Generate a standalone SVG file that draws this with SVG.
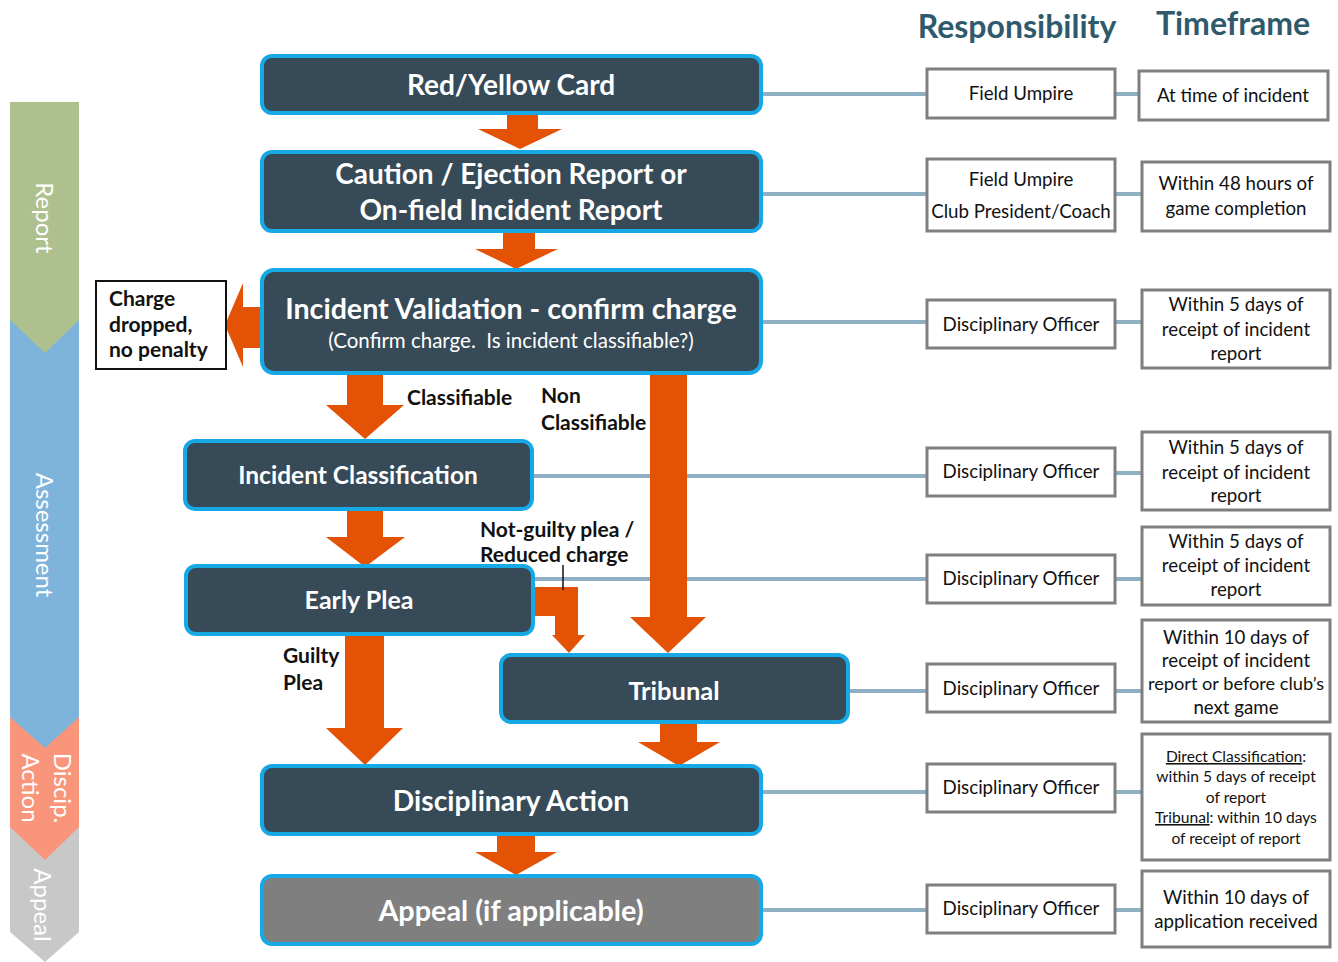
<svg xmlns="http://www.w3.org/2000/svg" width="1338" height="962" viewBox="0 0 1338 962">
<style>
.node{fill:#364A57;stroke:#17A9E6;stroke-width:4}
.gray{fill:#7F7F7F}
.nt{font-family:Lato,"Liberation Sans",sans-serif;font-weight:bold;fill:#fff;text-anchor:middle}
.sub{font-family:Lato,"Liberation Sans",sans-serif;font-weight:normal;fill:#fff;text-anchor:middle;font-size:20.5px;white-space:pre}
.arr{fill:#E35205}
.conn{stroke:#8FAFC2;stroke-width:4;fill:none}
.box{fill:#fff;stroke:#7F7F7F;stroke-width:3}
.bt{font-family:Lato,"Liberation Sans",sans-serif;font-size:18.7px;fill:#111;text-anchor:middle}
.bt.sm{font-size:15.6px}
.lbl{font-family:Lato,"Liberation Sans",sans-serif;font-weight:bold;font-size:21px;fill:#111}
.hdr{font-family:Lato,"Liberation Sans",sans-serif;font-weight:bold;font-size:32px;fill:#2F5A6C;text-anchor:middle}
.band{font-family:Lato,"Liberation Sans",sans-serif;font-size:24px;fill:#fff;text-anchor:middle}
</style>

<g id="phase-band">
<polygon points="10,827 79,827 79,932 45,962 10,932" fill="#C8C8C8"/>
<polygon points="10,717 79,717 79,827 45,860 10,827" fill="#F9957A"/>
<polygon points="10,320 79,320 79,717 45,748 10,717" fill="#7EB3DC"/>
<polygon points="10,102 79,102 79,320 45,353 10,320" fill="#AEC08E"/>
<text class="band" transform="translate(36,218) rotate(90)">Report</text>
<text class="band" transform="translate(36,535) rotate(90)">Assessment</text>
<text class="band" transform="translate(54,788) rotate(90)">Discip.</text>
<text class="band" transform="translate(22,788) rotate(90)">Action</text>
<text class="band" transform="translate(34,905) rotate(90)" fill="#F2F2F2">Appeal</text>
</g>

<g id="headers">
<text class="hdr" x="1017" y="38">Responsibility</text>
<text class="hdr" x="1233" y="35">Timeframe</text>
</g>

<g id="connectors">
<line class="conn" x1="761" y1="94" x2="927" y2="94"/>
<line class="conn" x1="1115" y1="94" x2="1139" y2="94"/>
<line class="conn" x1="761" y1="194" x2="927" y2="194"/>
<line class="conn" x1="1115" y1="194" x2="1142" y2="194"/>
<line class="conn" x1="761" y1="322" x2="927" y2="322"/>
<line class="conn" x1="1115" y1="322" x2="1142" y2="322"/>
<line class="conn" x1="532" y1="476" x2="927" y2="476"/>
<line class="conn" x1="1115" y1="473" x2="1142" y2="473"/>
<line class="conn" x1="533" y1="579" x2="927" y2="579"/>
<line class="conn" x1="1115" y1="579" x2="1142" y2="579"/>
<line class="conn" x1="848" y1="691" x2="927" y2="691"/>
<line class="conn" x1="1115" y1="691" x2="1142" y2="691"/>
<line class="conn" x1="761" y1="792" x2="927" y2="792"/>
<line class="conn" x1="1115" y1="792" x2="1142" y2="792"/>
<line class="conn" x1="761" y1="910" x2="927" y2="910"/>
<line class="conn" x1="1115" y1="910" x2="1142" y2="910"/>

<polygon class="arr" points="507,113 538,113 538,129 562,129 520,149 478,129 507,129"/>
<polygon class="arr" points="503,231 535,231 535,249 558,249 516,269 475,249 503,249"/>
<polygon class="arr" points="262,307 243,307 243,283 225,325 243,367 243,348 262,348"/>
<polygon class="arr" points="347,373 383,373 383,405 404,405 365,439 326,405 347,405"/>
<polygon class="arr" points="650,373 687,373 687,617 706,617 668,653 630,617 650,617"/>
<polygon class="arr" points="347,509 383,509 383,537 405,537 365,567 326,537 347,537"/>
<polygon class="arr" points="533,587 578,587 578,635 585,635 569,653 552,635 555,635 555,616 533,616"/>
<line x1="563" y1="565" x2="563" y2="590" stroke="#111" stroke-width="1.5"/>
<polygon class="arr" points="345,634 384,634 384,728 403,728 365,765 326,728 345,728"/>
<polygon class="arr" points="660,722 697,722 697,742 720,742 679,766 638,742 660,742"/>
<polygon class="arr" points="497,834 535,834 535,852 557,852 516,875 475,852 497,852"/>

<text class="lbl" x="407" y="405">Classifiable</text>
<text class="lbl" x="541" y="403">Non</text>
<text class="lbl" x="541" y="430">Classifiable</text>
<text class="lbl" x="480" y="537">Not-guilty plea /</text>
<text class="lbl" x="480" y="562">Reduced charge</text>
<text class="lbl" x="283" y="663">Guilty</text>
<text class="lbl" x="283" y="690">Plea</text>
</g>

<g id="n-card">
<rect class="node" x="262" y="56" width="499" height="57" rx="10"/>
<text class="nt" x="511" y="95" font-size="28">Red/Yellow Card</text>
</g>
<g id="n-report">
<rect class="node" x="262" y="152" width="499" height="79" rx="10"/>
<text class="nt" x="511" y="184" font-size="28">Caution / Ejection Report or</text>
<text class="nt" x="511" y="220" font-size="28">On-field Incident Report</text>
</g>
<g id="n-validation">
<rect class="node" x="262" y="270" width="499" height="103" rx="12"/>
<text class="nt" x="511" y="319" font-size="28.6">Incident Validation - confirm charge</text>
<text class="sub" x="511" y="348">(Confirm charge.  Is incident classifiable?)</text>
</g>
<g id="n-dropped">
<rect x="96" y="281" width="130" height="88" fill="#fff" stroke="#111" stroke-width="2"/>
<text class="lbl" x="109" y="306">Charge</text>
<text class="lbl" x="109" y="332">dropped,</text>
<text class="lbl" x="109" y="357">no penalty</text>
</g>
<g id="n-classification">
<rect class="node" x="185" y="441" width="347" height="68" rx="10"/>
<text class="nt" x="358" y="484" font-size="24.5">Incident Classification</text>
</g>
<g id="n-earlyplea">
<rect class="node" x="186" y="566" width="347" height="68" rx="10"/>
<text class="nt" x="359" y="609" font-size="25">Early Plea</text>
</g>
<g id="n-tribunal">
<rect class="node" x="501" y="655" width="347" height="67" rx="10"/>
<text class="nt" x="674" y="700" font-size="25.5">Tribunal</text>
</g>
<g id="n-action">
<rect class="node" x="262" y="766" width="499" height="68" rx="10"/>
<text class="nt" x="511" y="811" font-size="28.3">Disciplinary Action</text>
</g>
<g id="n-appeal">
<rect class="node gray" x="262" y="876" width="499" height="68" rx="10"/>
<text class="nt" x="511" y="921" font-size="28.8">Appeal (if applicable)</text>
</g>

<g id="r1">
<rect class="box" x="927" y="69" width="188" height="49"/>
<text class="bt" x="1021" y="100">Field Umpire</text>
<rect class="box" x="1139" y="71" width="189" height="49"/>
<text class="bt" x="1233" y="102">At time of incident</text>
</g>
<g id="r2">
<rect class="box" x="927" y="159" width="188" height="72"/>
<text class="bt" x="1021" y="186">Field Umpire</text>
<text class="bt" x="1021" y="218">Club President/Coach</text>
<rect class="box" x="1142" y="162" width="188" height="69"/>
<text class="bt" x="1236" y="190">Within 48 hours of</text>
<text class="bt" x="1236" y="215">game completion</text>
</g>
<g id="r3">
<rect class="box" x="927" y="300" width="188" height="48"/>
<text class="bt" x="1021" y="331">Disciplinary Officer</text>
<rect class="box" x="1142" y="290" width="188" height="78"/>
<text class="bt" x="1236" y="311">Within 5 days of</text>
<text class="bt" x="1236" y="336">receipt of incident</text>
<text class="bt" x="1236" y="360">report</text>
</g>
<g id="r4">
<rect class="box" x="927" y="448" width="188" height="48"/>
<text class="bt" x="1021" y="478">Disciplinary Officer</text>
<rect class="box" x="1142" y="432" width="188" height="78"/>
<text class="bt" x="1236" y="454">Within 5 days of</text>
<text class="bt" x="1236" y="479">receipt of incident</text>
<text class="bt" x="1236" y="502">report</text>
</g>
<g id="r5">
<rect class="box" x="927" y="555" width="188" height="48"/>
<text class="bt" x="1021" y="585">Disciplinary Officer</text>
<rect class="box" x="1142" y="527" width="188" height="78"/>
<text class="bt" x="1236" y="548">Within 5 days of</text>
<text class="bt" x="1236" y="572">receipt of incident</text>
<text class="bt" x="1236" y="596">report</text>
</g>
<g id="r6">
<rect class="box" x="927" y="664" width="188" height="48"/>
<text class="bt" x="1021" y="695">Disciplinary Officer</text>
<rect class="box" x="1142" y="620" width="188" height="102"/>
<text class="bt" x="1236" y="644">Within 10 days of</text>
<text class="bt" x="1236" y="667">receipt of incident</text>
<text class="bt" x="1236" y="690" font-size="18.2" style="font-size:18.2px">report or before club’s</text>
<text class="bt" x="1236" y="714">next game</text>
</g>
<g id="r7">
<rect class="box" x="927" y="764" width="188" height="48"/>
<text class="bt" x="1021" y="794">Disciplinary Officer</text>
<rect class="box" x="1142" y="734" width="188" height="126"/>
<text class="bt sm" x="1236" y="762"><tspan text-decoration="underline">Direct Classification</tspan>:</text>
<text class="bt sm" x="1236" y="782">within 5 days of receipt</text>
<text class="bt sm" x="1236" y="803">of report</text>
<text class="bt sm" x="1236" y="823"><tspan text-decoration="underline">Tribunal</tspan>: within 10 days</text>
<text class="bt sm" x="1236" y="844">of receipt of report</text>
</g>
<g id="r8">
<rect class="box" x="927" y="885" width="188" height="48"/>
<text class="bt" x="1021" y="915">Disciplinary Officer</text>
<rect class="box" x="1142" y="871" width="188" height="76"/>
<text class="bt" x="1236" y="904">Within 10 days of</text>
<text class="bt" x="1236" y="928">application received</text>
</g>
</svg>
